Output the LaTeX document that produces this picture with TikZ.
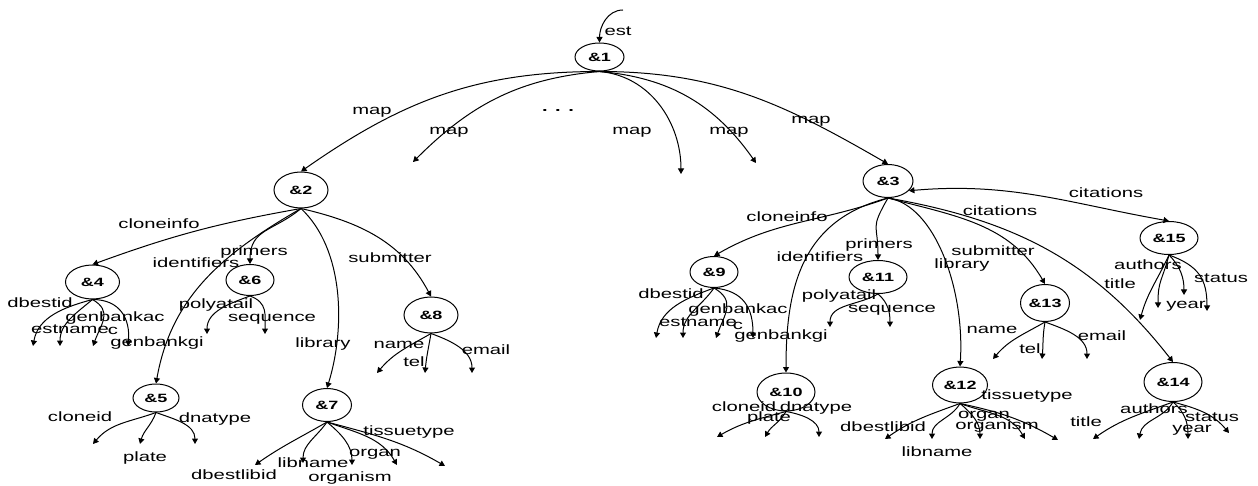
\documentclass[tikz,border=0pt]{standalone}
\usepackage{fontspec}
\newfontfamily\lblfont[FakeStretch=1.5]{Liberation Sans}
\usetikzlibrary{arrows.meta,shapes.geometric}

\begin{document}
\begin{tikzpicture}[x=1pt,y=1pt,
  obj/.style={ellipse, draw, line width=1pt, inner sep=0pt,
    font=\lblfont\bfseries\fontsize{12}{14}\selectfont},
  lbl/.style={inner sep=0pt, text height=9.7pt, text depth=2.8pt,
    font=\lblfont\fontsize{13.5}{15}\selectfont},
  link/.style={line width=1pt, -{Triangle[length=5.5pt,width=6pt]}},
]
\useasboundingbox (0,0) rectangle (1258,-486);

% ---------- objects ----------
\node[obj, minimum width=49pt, minimum height=28pt] (n1)  at (599.5,-57) {\&1};
\node[obj, minimum width=54pt, minimum height=36pt] (n2)  at (301,-190)  {\&2};
\node[obj, minimum width=50pt, minimum height=33pt] (n3)  at (888,-181)  {\&3};
\node[obj, minimum width=54pt, minimum height=34pt] (n4)  at (92.5,-282) {\&4};
\node[obj, minimum width=46pt, minimum height=28pt] (n5)  at (156,-398)  {\&5};
\node[obj, minimum width=48pt, minimum height=31pt] (n6)  at (250,-280)  {\&6};
\node[obj, minimum width=49pt, minimum height=33pt] (n7)  at (327,-405)  {\&7};
\node[obj, minimum width=54pt, minimum height=36pt] (n8)  at (431,-315)  {\&8};
\node[obj, minimum width=48pt, minimum height=31pt] (n9)  at (714,-272)  {\&9};
\node[obj, minimum width=58pt, minimum height=38pt] (n10) at (786,-392)  {\&10};
\node[obj, minimum width=58pt, minimum height=33pt] (n11) at (878,-277)  {\&11};
\node[obj, minimum width=55pt, minimum height=36pt] (n12) at (960,-385)  {\&12};
\node[obj, minimum width=49pt, minimum height=37pt] (n13) at (1045,-303) {\&13};
\node[obj, minimum width=58pt, minimum height=39pt] (n14) at (1173,-382) {\&14};
\node[obj, minimum width=58pt, minimum height=33pt] (n15) at (1169,-238) {\&15};

% ---------- free ends ----------
\coordinate (e0) at (623,-10);
\coordinate (m1) at (413,-162);
\coordinate (m2) at (681,-174);
\coordinate (m3) at (756,-163);
\coordinate (a4) at (33,-346);  \coordinate (b4) at (60,-346);
\coordinate (c4) at (93,-346);  \coordinate (d4) at (128,-346);
\coordinate (a5) at (93,-444);  \coordinate (b5) at (140,-444); \coordinate (c5) at (195,-444);
\coordinate (a6) at (207,-334); \coordinate (b6) at (265,-334);
\coordinate (a7) at (255,-465); \coordinate (b7) at (303,-463); \coordinate (c7) at (352,-465);
\coordinate (d7) at (397,-465); \coordinate (f7) at (445,-466);
\coordinate (a8) at (377,-373); \coordinate (b8) at (425,-373); \coordinate (c8) at (472,-373);
\coordinate (a9) at (656,-338); \coordinate (b9) at (683,-338);
\coordinate (c9) at (716,-338); \coordinate (d9) at (753,-338);
\coordinate (a10) at (717,-437); \coordinate (b10) at (765,-437); \coordinate (c10) at (819,-437);
\coordinate (a11) at (830,-327); \coordinate (b11) at (890,-327);
\coordinate (a12) at (885,-439); \coordinate (b12) at (932,-439); \coordinate (c12) at (980,-439);
\coordinate (d12) at (1025,-439); \coordinate (f12) at (1058,-440);
\coordinate (a13) at (993,-359); \coordinate (b13) at (1042,-359); \coordinate (c13) at (1087,-359);
\coordinate (a14) at (1093,-439); \coordinate (b14) at (1139,-439);
\coordinate (c14) at (1188,-439); \coordinate (d14) at (1229,-433);
\coordinate (a15) at (1140,-320); \coordinate (b15) at (1158,-308);
\coordinate (c15) at (1184,-295); \coordinate (d15) at (1207,-311);

% ---------- root ----------
\draw[link] (e0) to[out=180,in=90] (n1.north);
\draw[link] (n1.south) to[out=180,in=35] (n2.north);
\draw[link] (n1.south) to[out=185,in=45] (m1);
\draw[link] (n1.south) to[out=-5,in=90] (m2);
\draw[link] (n1.south) to[out=-5,in=125] (m3);
\draw[link] (n1.south) to[out=0,in=150] (n3.north);

% ---------- &2 ----------
\draw[link] (n2.south) to[out=190,in=20] (n4.north);
\draw[link] (n2.south) to[out=210,in=80] (n5.north);
\draw[link] (n2.south) to[out=220,in=90,looseness=1.2] (n6.north);
\draw[link] (n2.south) .. controls (345,-250) and (345,-330) .. (n7.north);
\draw[link] (n2.south) to[out=-13,in=118] (n8.north);

\draw[link] (n4.south) to[out=195,in=80] (a4);
\draw[link] (n4.south) to[out=220,in=90] (b4);
\draw[link] (n4.south) to[out=-30,in=70,looseness=1.3] (c4);
\draw[link] (n4.south) to[out=0,in=85,looseness=1.2] (d4);

\draw[link] (n5.south) to[out=200,in=50] (a5);
\draw[link] (n5.south) to[out=250,in=75] (b5);
\draw[link] (n5.south) to[out=-20,in=90] (c5);

\draw[link] (n6.south) to[out=200,in=90] (a6);
\draw[link] (n6.south) to[out=-20,in=90,looseness=1.2] (b6);

\draw[link] (n7.south) to[out=210,in=35] (a7);
\draw[link] (n7.south) to[out=235,in=90] (b7);
\draw[link] (n7.south) to[out=-40,in=90] (c7);
\draw[link] (n7.south) to[out=-20,in=120] (d7);
\draw[link] (n7.south) to[out=-15,in=150] (f7);

\draw[link] (n8.south) to[out=210,in=50] (a8);
\draw[link] (n8.south) to[out=260,in=85] (b8);
\draw[link] (n8.south) to[out=-20,in=90] (c8);

% ---------- &3 ----------
\draw[link] (n3.south) to[out=200,in=30] (n9.north);
\draw[link] (n3.south) .. controls (800,-220) and (786,-290) .. (n10.north);
\draw[link] (n3.south) to[out=240,in=90,looseness=1.5] (n11.north);
\draw[link] (n3.south) .. controls (935,-205) and (965,-290) .. (n12.north);
\draw[link] (n3.south) to[out=-15,in=120] (n13.north);
\draw[link] (n3.south) to[out=-10,in=128] (n14.north);
\draw[line width=1pt, {Triangle[length=5.5pt,width=6pt]}-{Triangle[length=5.5pt,width=6pt]}]
  (n3.-25) to[out=5,in=170] (n15.north);

\draw[link] (n9.south) to[out=200,in=80] (a9);
\draw[link] (n9.south) to[out=235,in=90] (b9);
\draw[link] (n9.south) to[out=-30,in=70,looseness=1.3] (c9);
\draw[link] (n9.south) to[out=-5,in=90,looseness=1.2] (d9);

\draw[link] (n10.south) to[out=195,in=30] (a10);
\draw[link] (n10.south) to[out=240,in=60] (b10);
\draw[link] (n10.south) to[out=-10,in=90] (c10);

\draw[link] (n11.south) to[out=210,in=90] (a11);
\draw[link] (n11.south) to[out=-40,in=90] (b11);

\draw[link] (n12.south) to[out=200,in=35] (a12);
\draw[link] (n12.south) to[out=240,in=90] (b12);
\draw[link] (n12.south) to[out=-40,in=90] (c12);
\draw[link] (n12.south) to[out=-20,in=120] (d12);
\draw[link] (n12.south) to[out=-12,in=150] (f12);

\draw[link] (n13.south) to[out=210,in=50] (a13);
\draw[link] (n13.south) to[out=260,in=85] (b13);
\draw[link] (n13.south) to[out=-20,in=90] (c13);

\draw[link] (n14.south) to[out=200,in=35] (a14);
\draw[link] (n14.south) to[out=240,in=80] (b14);
\draw[link] (n14.south) to[out=-40,in=90] (c14);
\draw[link] (n14.south) to[out=-15,in=130] (d14);

\draw[link] (n15.south) to[out=245,in=75] (a15);
\draw[link] (n15.south) to[out=255,in=90,looseness=1.3] (b15);
\draw[link] (n15.south) to[out=-45,in=90] (c15);
\draw[link] (n15.south) to[out=-20,in=90,looseness=1.2] (d15);

% ---------- edge labels ----------
\node[lbl] (t0)  at (618,-32)  {est};
\node[lbl] (t1)  at (372,-111) {map};
\node[lbl] (t2)  at (449,-131) {map};
\node[lbl,font=\lblfont\bfseries\fontsize{13.5}{15}\selectfont] (t3) at (558,-108) {. . .};
\node[lbl] (t4)  at (632,-131) {map};
\node[lbl] (t5)  at (729,-131) {map};
\node[lbl] (t6)  at (811,-120) {map};

\node[lbl] (u1)  at (159,-225) {cloneinfo};
\node[lbl] (u2)  at (196,-264) {identifiers};
\node[lbl] (u3)  at (254,-252) {primers};
\node[lbl] (u4)  at (323,-344) {library};
\node[lbl] (u5)  at (390,-259) {submitter};

\node[lbl] (u6)  at (40,-304)  {dbestid};
\node[lbl] (u7)  at (115,-318) {genbankac};
\node[lbl] (u8)  at (70,-330)  {estname};
\node[lbl] (u9)  at (113,-331) {c};
\node[lbl] (u10) at (157,-343) {genbankgi};

\node[lbl] (u11) at (80,-418)  {cloneid};
\node[lbl] (u12) at (215,-419) {dnatype};
\node[lbl] (u13) at (145,-458) {plate};

\node[lbl] (u14) at (216,-305) {polyatail};
\node[lbl] (u15) at (272,-318) {sequence};

\node[lbl] (u16) at (234,-476) {dbestlibid};
\node[lbl] (u17) at (313,-464) {libname};
\node[lbl] (u18) at (350,-478) {organism};
\node[lbl] (u19) at (375,-453) {organ};
\node[lbl] (u20) at (409,-432) {tissuetype};

\node[lbl] (u21) at (399,-345) {name};
\node[lbl] (u22) at (414,-363) {tel};
\node[lbl] (u23) at (486,-351) {email};

\node[lbl] (v1)  at (787,-218)  {cloneinfo};
\node[lbl] (v2)  at (820,-258)  {identifiers};
\node[lbl] (v3)  at (879,-245)  {primers};
\node[lbl] (v4)  at (993,-252)  {submitter};
\node[lbl] (v5)  at (962,-265)  {library};
\node[lbl] (v6)  at (1000,-212) {citations};
\node[lbl] (v7)  at (1106,-194) {citations};

\node[lbl] (v8)  at (671,-295) {dbestid};
\node[lbl] (v9)  at (738,-310) {genbankac};
\node[lbl] (v10) at (698,-323) {estname};
\node[lbl] (v11) at (738,-326) {c};
\node[lbl] (v12) at (781,-336) {genbankgi};

\node[lbl] (v13) at (744,-408) {cloneid};
\node[lbl] (v14) at (816,-408) {dnatype};
\node[lbl] (v15) at (769,-418) {plate};

\node[lbl] (v16) at (839,-296) {polyatail};
\node[lbl] (v17) at (892,-309) {sequence};

\node[lbl] (v18) at (883,-428)  {dbestlibid};
\node[lbl] (v19) at (937,-453)  {libname};
\node[lbl] (v20) at (997,-426)  {organism};
\node[lbl] (v21) at (984,-415)  {organ};
\node[lbl] (v22) at (1027,-396) {tissuetype};

\node[lbl] (v23) at (992,-330)  {name};
\node[lbl] (v24) at (1030,-350) {tel};
\node[lbl] (v25) at (1102,-337) {email};

\node[lbl] (v26) at (1086,-423) {title};
\node[lbl] (v27) at (1154,-410) {authors};
\node[lbl] (v28) at (1212,-418) {status};
\node[lbl] (v29) at (1192,-429) {year};

\node[lbl] (v30) at (1148,-266) {authors};
\node[lbl] (v31) at (1120,-285) {title};
\node[lbl] (v32) at (1221,-279) {status};
\node[lbl] (v33) at (1186,-305) {year};
\end{tikzpicture}
\end{document}
